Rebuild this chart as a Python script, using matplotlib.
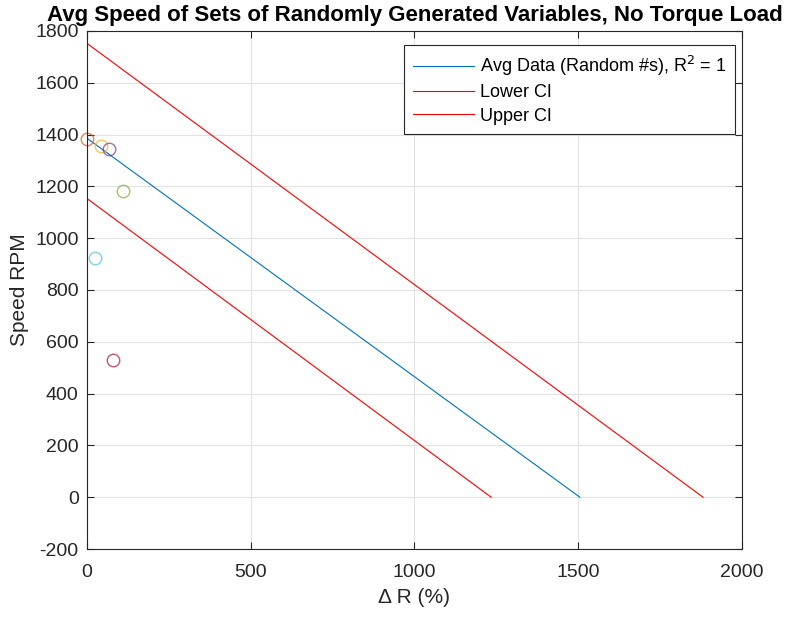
import numpy as np
import matplotlib.pyplot as plt

plt.rcParams['font.family'] = ['Liberation Sans', 'DejaVu Sans']
plt.rcParams['axes.unicode_minus'] = False

# fitted line and confidence bounds (endpoints)
fit_x = [0, 1505]
fit_y = [1386, 0]
lower_x = [0, 1234]
lower_y = [1153, 0]
upper_x = [0, 1881]
upper_y = [1752, 0]

# individual random sets
pts_x = [0, 43, 67, 110, 24, 79]
pts_y = [1382, 1355, 1344, 1181, 923, 529]
pts_c = ['#D95319', '#EDB120', '#7E2F8E', '#77AC30', '#4DBEEE', '#A2142F']

fig = plt.figure(figsize=(7.88, 6.17), dpi=100)
ax = fig.add_axes([0.1104, 0.1102, 0.8312, 0.8396])

ax.plot(fit_x, fit_y, color='#0072BD', lw=0.8, label='Avg Data (Random #s), R$^2$ = 1')
ax.plot(lower_x, lower_y, color='red', lw=0.8, label='Lower CI')
ax.plot(upper_x, upper_y, color='red', lw=0.8, label='Upper CI')
for x, y, c in zip(pts_x, pts_y, pts_c):
    ax.plot(x, y, 'o', mfc='none', mec=c, ms=9, mew=1.0, alpha=0.7, clip_on=False)

ax.set_xlim(0, 2000)
ax.set_ylim(-200, 1800)
ax.set_xticks(np.arange(0, 2001, 500))
ax.set_yticks(np.arange(-200, 1801, 200))
ax.grid(True, color='#e3e3e3', lw=0.8)
ax.set_axisbelow(True)
ax.tick_params(direction='in', labelsize=14, length=5, color='#262626', labelcolor='#262626',
               top=True, right=True)
ax.tick_params(axis='x', pad=11)
ax.tick_params(axis='y', pad=6)
for s in ax.spines.values():
    s.set_color('#262626')
    s.set_linewidth(0.8)

ax.set_xlabel('Δ R (%)', fontsize=15, color='#262626', labelpad=5)
ax.set_ylabel('Speed RPM', fontsize=15, color='#262626', labelpad=4)
ax.set_title('Avg Speed of Sets of Randomly Generated Variables, No Torque Load',
             fontsize=16, fontweight='bold', pad=7)

leg = ax.legend(loc='upper right', bbox_to_anchor=(0.9895, 0.973), fontsize=13,
                fancybox=False, framealpha=1, edgecolor='#262626', borderaxespad=0,
                handlelength=3.4, handletextpad=0.3, borderpad=0.5, labelspacing=0.35)
leg.get_frame().set_linewidth(0.8)

fig.savefig('out.png', dpi=100)
